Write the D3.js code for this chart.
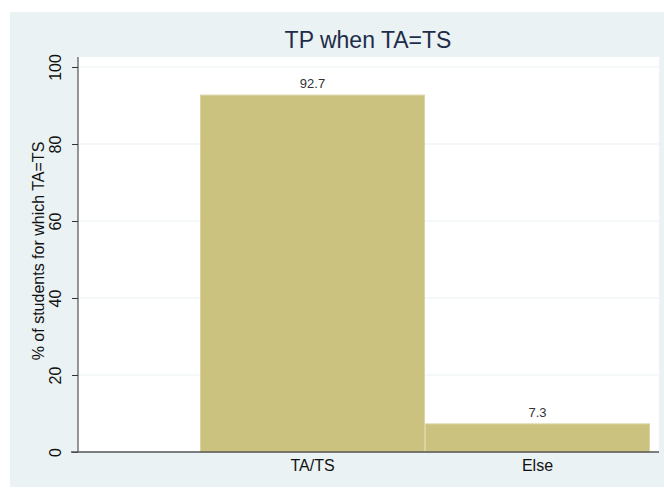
<!DOCTYPE html>
<html>
<head>
<meta charset="utf-8">
<script src="https://cdn.jsdelivr.net/npm/d3@7"></script>
<style>
  body { margin: 0; background: #fff; }
  svg { display: block; font-family: "Liberation Sans", Arial, sans-serif; }
</style>
</head>
<body>
<div class="chart"></div>
<script>
const categories = ['TA/TS', 'Else'];
const values = [92.7, 7.3];
const yTicks = [0, 20, 40, 60, 80, 100];
const title = 'TP when TA=TS';
const yTitle = '% of students for which TA=TS';

const width = 664,
  height = 488;

let svg = d3.select('.chart').append('svg').attr('width', width).attr('height', height);

// outer graph region
svg.append('rect').attr('x', 10).attr('y', 12).attr('width', width - 10).attr('height', 475).attr('fill', '#EAF2F3');

// plot region
const plot = { left: 78, right: 659, top: 57, bottom: 452 };
svg
  .append('rect')
  .attr('x', plot.left)
  .attr('y', plot.top)
  .attr('width', plot.right - plot.left)
  .attr('height', plot.bottom - plot.top)
  .attr('fill', '#fff');

let y = d3.scaleLinear().domain([0, 100]).range([452, 67]);
let x = d3.scaleBand().domain(categories).range([200, 650]).padding(0);

// gridlines
svg
  .selectAll('.grid')
  .data(yTicks.filter(t => t > 0))
  .enter()
  .append('line')
  .attr('x1', plot.left)
  .attr('x2', plot.right)
  .attr('y1', d => y(d))
  .attr('y2', d => y(d))
  .attr('stroke', '#EAF2F3')
  .attr('stroke-width', 1.2);

// bars
svg
  .selectAll('.bar')
  .data(values)
  .enter()
  .append('rect')
  .attr('x', (d, i) => x(categories[i]) + 0.5)
  .attr('y', d => y(d))
  .attr('width', x.bandwidth() - 1)
  .attr('height', d => y(0) - y(d))
  .attr('fill', '#CBC27F')
  .attr('stroke', '#DAD4A4')
  .attr('stroke-width', 1);

// value labels
svg
  .selectAll('.val')
  .data(values)
  .enter()
  .append('text')
  .attr('x', (d, i) => x(categories[i]) + x.bandwidth() / 2)
  .attr('y', d => y(d) - 7)
  .attr('text-anchor', 'middle')
  .attr('font-size', 13)
  .attr('fill', '#333')
  .text(d => d.toFixed(1));

// y axis
let yAxis = svg
  .append('g')
  .attr('transform', `translate(${plot.left},0)`)
  .call(d3.axisLeft(y).tickValues(yTicks).tickSize(6).tickPadding(5));
yAxis.select('.domain').attr('d', `M0,${plot.top}V${plot.bottom}`).attr('stroke', '#333');
yAxis.selectAll('.tick line').attr('stroke', '#333');
yAxis
  .selectAll('.tick text')
  .attr('transform', 'rotate(-90)')
  .attr('x', 0)
  .attr('y', -17)
  .attr('dy', 0)
  .attr('text-anchor', 'middle')
  .attr('font-size', 16)
  .attr('fill', '#111');

// x axis
let xAxis = svg
  .append('g')
  .attr('transform', `translate(0,${plot.bottom})`)
  .call(d3.axisBottom(x).tickSize(0).tickPadding(8));
xAxis.select('.domain').attr('d', `M${plot.left - 7},0H${plot.right}`).attr('stroke', '#555').attr('stroke-width', 1.5);
xAxis.selectAll('.tick text').attr('font-size', 16).attr('fill', '#111');

// titles
svg
  .append('text')
  .attr('x', 368)
  .attr('y', 48)
  .attr('text-anchor', 'middle')
  .attr('font-size', 23)
  .attr('fill', '#1E2D4A')
  .text(title);

svg
  .append('text')
  .attr('transform', `translate(44,251) rotate(-90)`)
  .attr('text-anchor', 'middle')
  .attr('font-size', 16)
  .attr('fill', '#111')
  .text(yTitle);
</script>
</body>
</html>
